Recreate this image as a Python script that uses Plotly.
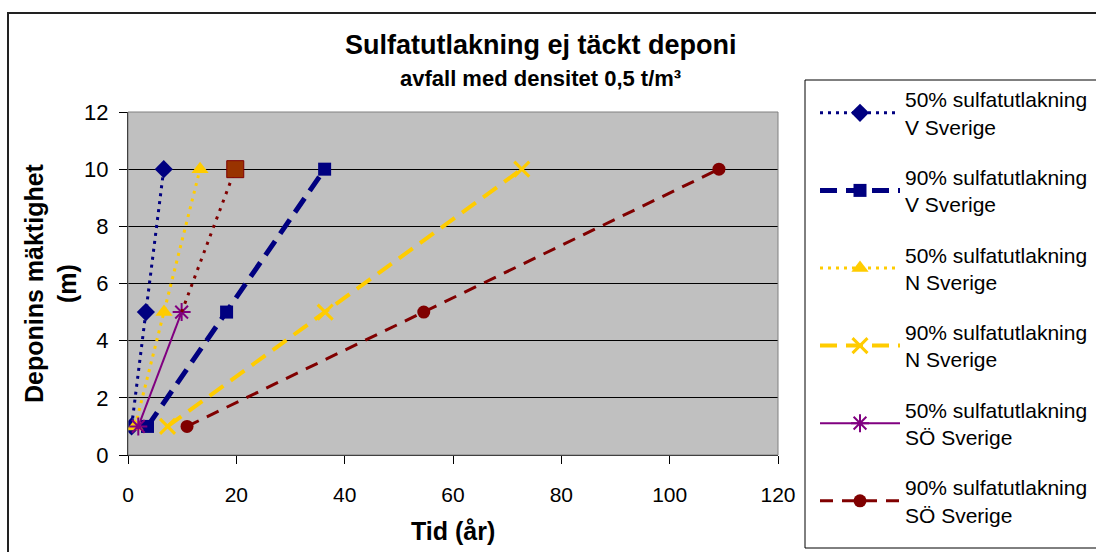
import plotly.graph_objects as go

# Deponins mäktighet (m) för alla serier
depth = [1, 5, 10]

# Tid (år) per serie
v50 = [0.66, 3.3, 6.6]
v90 = [3.6, 18.2, 36.3]
n50 = [1.3, 6.65, 13.3]
n90 = [7.3, 36.4, 72.7]
so50 = [1.9, 9.9, 19.8]
so90 = [10.9, 54.6, 109.1]

names = [
    "50% sulfatutlakning<br>V Sverige",
    "90% sulfatutlakning<br>V Sverige",
    "50% sulfatutlakning<br>N Sverige",
    "90% sulfatutlakning<br>N Sverige",
    "50% sulfatutlakning<br>SÖ Sverige",
    "90% sulfatutlakning<br>SÖ Sverige",
]

x_ticks = [0, 20, 40, 60, 80, 100, 120]
y_ticks = [0, 2, 4, 6, 8, 10, 12]

NAVY = "#000080"
YELLOW = "#FFCC00"
PURPLE = "#800080"
MAROON = "#800000"
BROWN = "#993300"
FONT = "Liberation Sans, Arial, sans-serif"

fig = go.Figure()

def add(x, y, name, color, width, dash, symbol, size, mline=None, group=None):
    marker = dict(symbol=symbol, size=size, color=color, opacity=1)
    if mline:
        marker["line"] = dict(color=color, width=mline)
    fig.add_trace(go.Scatter(
        x=x, y=y, name=name, mode="lines+markers",
        line=dict(color=color, width=width, dash=dash),
        marker=marker, legendgroup=group or name,
    ))

add(v50, depth, names[0], NAVY, 3, "3px,5px", "diamond", 14)
add(v90, depth, names[1], NAVY, 5, "17px,9px", "square", 13)
add(n50, depth, names[2], YELLOW, 3, "3px,5px", "triangle-up", 15)
add(n90, depth, names[3], YELLOW, 4, "17px,9px", "x-thin", 15, mline=3)
# SÖ 50 %: heldragen linje fram till 5 m, sista sträckan prickad
add(so50[:2], depth[:2], names[4], PURPLE, 2, "solid", "asterisk-open", 15, mline=2, group="so50")
fig.add_trace(go.Scatter(
    x=so50[1:], y=depth[1:], mode="lines+markers", showlegend=False,
    line=dict(color=MAROON, width=3, dash="3px,6px"),
    marker=dict(symbol=["circle", "square"], size=[0, 17], color=BROWN, opacity=1),
    legendgroup="so50",
))
add(so90, depth, names[5], MAROON, 3, "13px,9px", "circle", 13)

# ram runt hela diagrammet och runt förklaringen
L, R, T, B = 128, 778, 112, 455
def px(xp):
    return (xp - L) / (R - L)
def py(yp):
    return (B - yp) / (B - T)

fig.add_shape(type="rect", xref="paper", yref="paper",
              x0=px(8), x1=px(1110), y0=py(13), y1=py(570),
              line=dict(color="#222222", width=2), fillcolor="rgba(0,0,0,0)", layer="below")
fig.add_shape(type="rect", xref="paper", yref="paper",
              x0=px(805), x1=px(1110), y0=py(80), y1=py(548),
              line=dict(color="#000000", width=1), fillcolor="white")
fig.add_shape(type="rect", xref="paper", yref="paper",
              x0=0, x1=1, y0=0, y1=1,
              line=dict(color="#808080", width=1))

def label(text, xp, yp, size, angle=0):
    fig.add_annotation(text=text, xref="paper", yref="paper", x=px(xp), y=py(yp),
                       xanchor="center", yanchor="middle", showarrow=False,
                       textangle=angle, font=dict(size=size, family=FONT, color="black"))

label("<b>Sulfatutlakning ej täckt deponi</b>", 541, 45, 27)
label("<b>avfall med densitet 0,5 t/m³</b>", 540, 78, 22)
label("<b>Deponins mäktighet<br>(m)</b>", 50, 283, 25, angle=-90)
label("<b>Tid (år)</b>", 453, 531, 25)

fig.update_layout(
    width=1096, height=552,
    margin=dict(l=L, r=1096 - R, t=T, b=552 - B, autoexpand=False),
    paper_bgcolor="white", plot_bgcolor="#C0C0C0",
    font=dict(family=FONT, size=21, color="black"),
    showlegend=True,
    legend=dict(
        x=px(815), y=py(79), xanchor="left", yanchor="top",
        bgcolor="rgba(0,0,0,0)", borderwidth=0,
        font=dict(size=21, family=FONT, color="black"),
        itemwidth=80, tracegroupgap=20, itemclick=False, maxheight=552,
    ),
)
fig.update_xaxes(
    range=[0, 120], tickvals=x_ticks, ticks="outside", ticklen=8, tickcolor="black",
    showline=True, linecolor="black", linewidth=1, showgrid=False, zeroline=False,
    ticklabelstandoff=13, tickfont=dict(size=21, family=FONT),
)
fig.update_yaxes(
    range=[0, 12], tickvals=y_ticks, ticks="outside", ticklen=8, tickcolor="black",
    showline=True, linecolor="black", linewidth=1, showgrid=True, gridcolor="black",
    gridwidth=1, zeroline=False, ticklabelstandoff=6, tickfont=dict(size=22, family=FONT),
)

fig.write_html("out.html")
